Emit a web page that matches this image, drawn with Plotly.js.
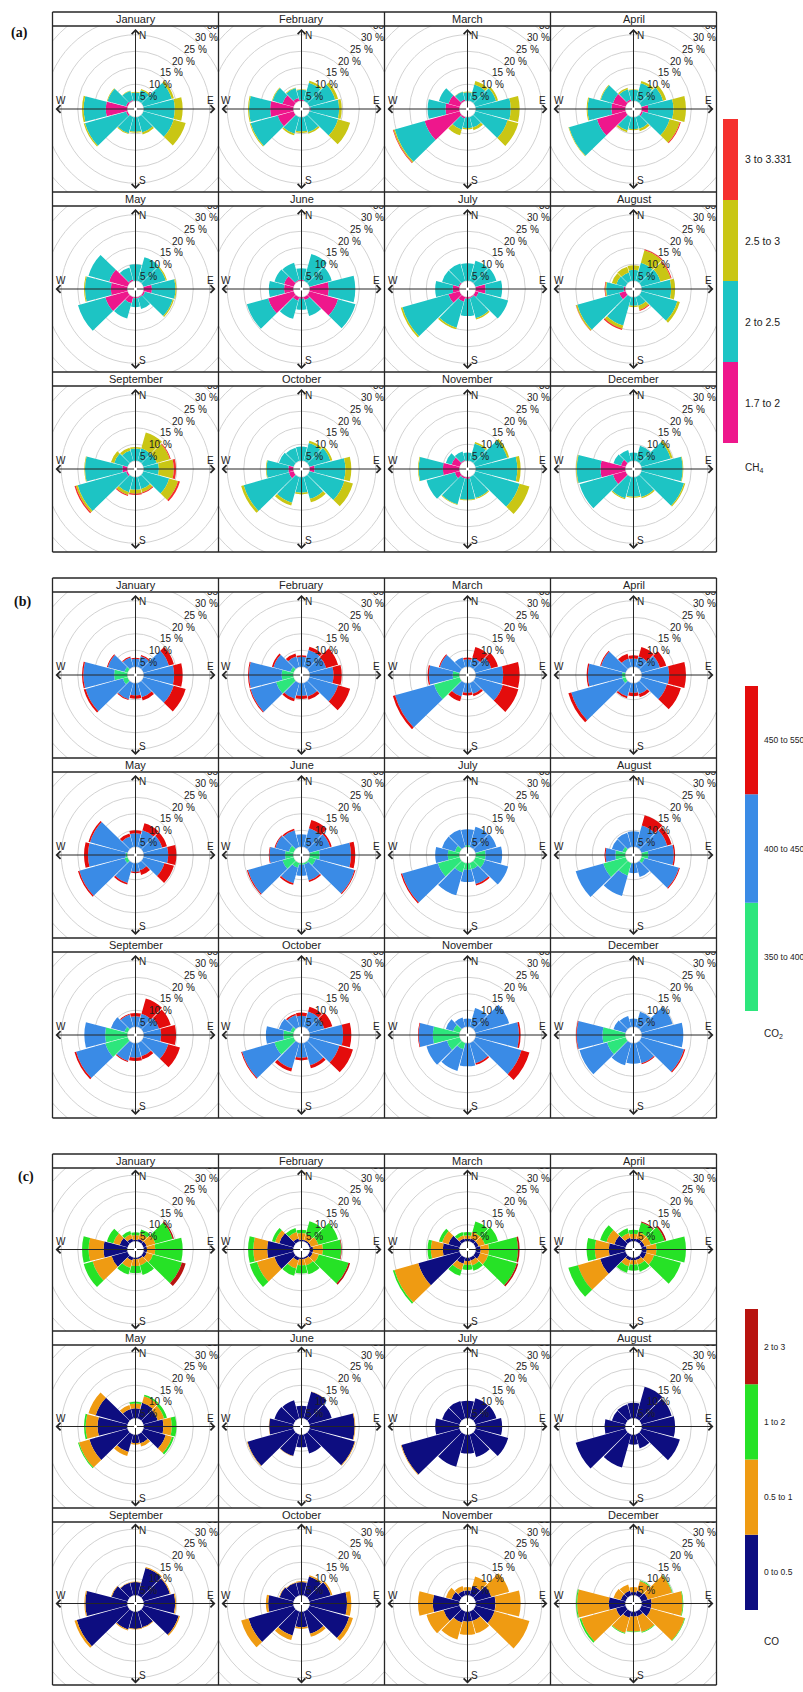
<!DOCTYPE html>
<html>
<head>
<meta charset="utf-8">
<script src="https://cdn.plot.ly/plotly-3.0.1.min.js"></script>
<style>
  html, body { margin: 0; padding: 0; background: #fff; }
  #chart { width: 803px; height: 1692px; }
</style>
</head>
<body>
<div id="chart"></div>
<script>
// Wind sectors (degrees, clockwise from north) and month panels
const directions = [0, 30, 60, 90, 120, 150, 180, 210, 240, 270, 300, 330];
const months = ['January', 'February', 'March', 'April', 'May', 'June',
                'July', 'August', 'September', 'October', 'November', 'December'];

// CH4 frequency (%) per sector, one row per month
const ch4_1p7to2 = [
  [0, 0, 0, 0, 0, 0, 0, 0, 0.5, 6.5, 0.5, 0.3],
  [0.3, 0, 0, 0.3, 0, 0, 0, 0, 5, 7, 3.5, 1],
  [0, 0, 0, 0, 0, 0, 0, 0.5, 11, 4.2, 3.5, 0.5],
  [0, 0, 0, 2, 0.5, 0, 0, 0, 9, 4.2, 4, 0.5],
  [0, 0, 0, 2.5, 0.5, 0.3, 0.3, 2, 7, 5, 5.8, 0.5],
  [0.3, 0, 0, 5.8, 9, 1, 0.5, 1.2, 8, 2.8, 3, 0.3],
  [0, 0, 0, 3, 1, 0.3, 0.5, 1.5, 3.5, 2, 0.3, 0],
  [0, 0, 0, 0, 0, 0, 0, 0, 2, 0.5, 0, 0],
  [0, 0, 0, 0, 0, 0, 0, 0, 0.5, 1.5, 0, 0],
  [0, 0, 0, 1.5, 0, 0, 0, 0, 1.5, 1.5, 0, 0],
  [0, 0, 0, 0, 0, 0, 0.5, 0.5, 1.5, 5, 2.5, 0.3],
  [0, 0, 0, 0, 0, 0, 0, 0, 4, 7.5, 1.5, 0]
];
const ch4_2to2p5 = [
  [2.5, 3.4, 8.9, 9.4, 9.5, 4.9, 4.4, 5.1, 12.9, 6.7, 5.8, 2.9],
  [3, 5.8, 8.1, 8.6, 9, 4.8, 4.3, 5.3, 8.5, 6.4, 3.1, 3.1],
  [2.6, 5.2, 6.5, 10.6, 10.1, 3.3, 3.3, 3.5, 9.4, 5.4, 3, 2.4],
  [3.3, 5.6, 6.8, 7.6, 8.4, 3.7, 3.6, 4.3, 8.8, 7.2, 3.8, 3.2],
  [5, 7.5, 7, 7.1, 8.7, 3.5, 2.7, 4.8, 8.6, 7.8, 6.5, 3.8],
  [3.5, 8.5, 7, 8, 5.5, 5, 3.3, 5.7, 6.7, 4.6, 3, 5.5],
  [5.3, 6.4, 6.6, 5, 9.3, 6.4, 5.2, 8.2, 14.5, 5.3, 5.2, 5.5],
  [3.3, 5.8, 6, 8.9, 11.3, 2.8, 2.6, 9, 13.2, 5.3, 2.9, 2.7],
  [3.7, 4, 4.2, 4.6, 8.1, 3.8, 3.8, 4.8, 15.2, 11.3, 4.2, 3.3],
  [4.3, 5.7, 6.6, 9.3, 11, 6.9, 4.7, 8.1, 14.2, 6.6, 4.6, 4.2],
  [2.5, 5.5, 10, 12.6, 13.9, 6.6, 6.3, 8.1, 8.9, 7.3, 1.8, 2.7],
  [2.5, 4.8, 9.2, 12.4, 13.4, 6.3, 5.9, 6.7, 10.5, 7.2, 2.3, 3.5]
];
const ch4_2p5to3 = [
  [0.2, 0.4, 0.7, 2.4, 3.8, 0.6, 0.3, 0.3, 0.4, 0.5, 0.2, 0.1],
  [0.2, 0.6, 0.9, 0.8, 3.8, 0.5, 0.5, 0.5, 0.3, 0.3, 0.2, 0.2],
  [0.2, 1.1, 0.6, 2.7, 3.4, 0.9, 0.4, 1.8, 0.4, 0, 0, 0.1],
  [0.2, 0.7, 1, 3.8, 3.2, 0.8, 0.3, 0.5, 0.2, 0.3, 0.2, 0.5],
  [0, 0, 0.4, 0.3, 0.4, 0, 0, 0, 0, 0.3, 0, 0],
  [0, 0, 0, 0, 0, 0, 0, 0, 0, 0, 0, 0],
  [0, 0, 0, 0, 0, 0.4, 0, 0.5, 0.5, 0, 0, 0],
  [1.4, 3.9, 3.2, 1.2, 0.8, 1.3, 0.4, 1, 0.4, 0.3, 1.4, 1.8],
  [0.5, 5, 4.1, 4.5, 2.8, 1.1, 1.2, 0.9, 0.6, 0.2, 1, 0.9],
  [0, 0.7, 0.6, 1.8, 2.7, 1.1, 0.5, 0.9, 0.8, 0.2, 0, 0],
  [0, 0.5, 0.6, 1, 3.1, 0.3, 0.2, 0.2, 0, 0.2, 0, 0],
  [0, 0, 0.6, 0.2, 0.4, 0.4, 0.3, 0.3, 0, 0.2, 0, 0]
];
const ch4_3to3p331 = [
  [0, 0, 0, 0, 0, 0, 0, 0, 0, 0, 0, 0],
  [0, 0, 0, 0, 0, 0, 0, 0, 0, 0, 0, 0],
  [0, 0, 0, 0, 0, 0, 0, 0, 0.2, 0, 0, 0],
  [0, 0, 0, 0, 0.3, 0, 0, 0, 0, 0, 0, 0],
  [0, 0, 0, 0, 0, 0, 0, 0, 0, 0, 0, 0],
  [0, 0, 0, 0, 0, 0, 0, 0, 0, 0, 0, 0],
  [0, 0, 0, 0, 0, 0, 0, 0, 0, 0, 0, 0],
  [0, 0.3, 0.3, 0, 0, 0.3, 0, 0.4, 0.1, 0.2, 0, 0],
  [0, 0, 0.3, 0.7, 0.6, 0.3, 0.4, 0.3, 0.4, 0, 0, 0],
  [0, 0, 0, 0, 0, 0, 0, 0, 0, 0, 0, 0],
  [0, 0, 0, 0, 0, 0, 0, 0, 0, 0, 0, 0],
  [0, 0, 0, 0, 0, 0, 0, 0, 0, 0, 0, 0]
];

// CO2 frequency (%) per sector
const co2_350to400 = [
  [0, 0, 0, 0, 0, 0, 0, 0, 1.5, 4, 1, 0],
  [0, 0, 0, 0, 0, 0, 0, 0, 5.5, 3.5, 1, 0],
  [0, 0, 0, 0, 0, 0, 0, 0, 8, 2, 0, 0],
  [0, 0, 0, 0, 0, 0, 0, 0, 1, 1, 0, 0],
  [0, 0, 0, 0, 0, 0, 0, 0, 1, 0.5, 0, 0],
  [0, 0, 0, 3, 2, 0.5, 0.5, 1.5, 3.5, 2.5, 1.5, 0],
  [0.5, 0, 0, 3, 3, 2, 2, 3, 6.8, 3.5, 1.5, 0],
  [0, 0, 0, 2, 1, 0, 0, 4, 7, 3, 1, 0],
  [0, 0, 0, 0, 0, 0, 0, 0, 7, 6.7, 1, 0],
  [0, 0, 0, 0, 0, 0, 0, 0, 6, 3, 1, 0],
  [0, 0, 0, 0, 0, 0, 0, 2, 4, 8, 2, 0],
  [0, 0, 0, 0, 0, 0, 0, 0, 5.8, 6.9, 0, 0]
];
const co2_400to450 = [
  [2.4, 3.4, 8, 9.2, 9.5, 4.5, 3.7, 5.1, 11.7, 9.3, 5.2, 3],
  [3, 5.4, 5.3, 7.2, 9, 4.3, 3.8, 5, 8, 9.9, 5.3, 3.3],
  [2.3, 3, 5, 8.3, 8.6, 3.4, 2.9, 4.3, 12.3, 7.2, 6.2, 3],
  [2.5, 3.3, 5.8, 8.3, 8, 3.5, 2.9, 4.3, 16.1, 10.3, 7.7, 2.7],
  [4.1, 5.3, 5.9, 7.4, 6.6, 2.3, 2.6, 6.3, 14.2, 11.4, 11.8, 3.3],
  [3.8, 5.9, 6.5, 9.5, 12.2, 5, 3.3, 4.9, 10.9, 4.7, 4.2, 5.3],
  [4.8, 6.4, 6.6, 5, 7.3, 4.6, 3.7, 7.2, 11.3, 3.8, 4, 5.5],
  [4.7, 6.8, 8.1, 7.7, 10.8, 4.4, 3, 6.4, 8.7, 3, 3.3, 4.5],
  [3.2, 4.2, 4.9, 5.3, 7.8, 4.2, 4.4, 5.7, 9.2, 6.3, 4.2, 3.9],
  [3.3, 4.9, 4.7, 10.1, 9.4, 7, 4.4, 8, 10.2, 5.3, 3.6, 3.7],
  [2.5, 6, 10.6, 13.1, 14.5, 6.4, 7, 6.8, 6.4, 4.3, 2.3, 3],
  [2.5, 4.8, 9.8, 12.6, 13.4, 6.4, 6.2, 7, 8.7, 7.8, 3.8, 3.5]
];
const co2_450to550 = [
  [0.3, 0.4, 1.6, 2.6, 3.8, 1, 1, 0.3, 0.6, 0.4, 0.3, 0.3],
  [0.5, 1, 3.7, 2.5, 3.8, 1, 1, 0.8, 0.3, 0.3, 0.5, 1],
  [0.5, 3.3, 2.1, 5, 4.9, 0.8, 0.8, 1.5, 0.7, 0.4, 0.3, 0],
  [1, 3, 2, 5.1, 4.4, 1, 1, 0.5, 0.9, 0.4, 0.3, 1.5],
  [0.9, 2.2, 1.5, 2.5, 3, 1.5, 0.4, 0.5, 0.4, 1.2, 0.5, 1],
  [0, 2.6, 0.5, 1.3, 0.3, 0.5, 0, 0.5, 0.3, 0.2, 0.3, 0.5],
  [0, 0, 0, 0, 0, 0.5, 0, 0, 0.4, 0, 0, 0],
  [0, 3.2, 1.4, 0.4, 0.3, 0, 0, 0, 0, 0.3, 0, 0],
  [1, 4.8, 3.7, 4.5, 3.7, 1, 1, 0.3, 0.5, 0, 0, 0.3],
  [1, 1.5, 2.5, 2.5, 4.3, 1, 0.8, 1, 0.3, 0, 0, 0.5],
  [0, 0, 0, 0.5, 2.5, 0.5, 0, 0, 0, 0.2, 0, 0],
  [0, 0, 0, 0, 0.4, 0.3, 0, 0, 0, 0.2, 0, 0]
];

// CO frequency (%) per sector
const co_0to0p5 = [
  [0.5, 0.8, 1, 1, 1, 0.5, 0.5, 1, 5, 7.2, 2.5, 1],
  [0.5, 0.5, 0.5, 1, 1, 0.5, 0.5, 1, 6, 7.9, 4.5, 1],
  [0.8, 1, 1, 1.5, 1.5, 1, 1, 2, 13, 5, 3.5, 1],
  [0.8, 1, 1, 1.5, 1.5, 0.8, 0.8, 1, 8, 5, 3.5, 1.2],
  [3, 5, 4.5, 6, 7, 2.8, 2.5, 5.5, 12, 9, 10, 3],
  [3.8, 8.4, 7, 13.6, 14.3, 6, 3.8, 6.8, 14.5, 7.3, 6, 5.8],
  [5.3, 6.4, 6.6, 8, 10.3, 7.1, 5.7, 10.2, 18.3, 7.3, 5.5, 5.5],
  [4.7, 10, 9.5, 10.1, 12.1, 4.4, 3, 10.4, 15.7, 6.3, 4.3, 4.5],
  [4, 8.7, 8.3, 9.5, 11.1, 5, 5.2, 5.7, 16, 12.7, 5, 4],
  [4, 6, 6.7, 11.3, 12.5, 7, 4.7, 7.6, 14.2, 7.6, 4.4, 4],
  [1.5, 3, 5, 6, 6, 3, 3, 3.5, 5, 8, 2.5, 1.5],
  [1, 1.5, 2, 3, 3, 1.5, 1.5, 2, 3, 5, 1.5, 1.5]
];
const co_0p5to1 = [
  [1.4, 1.8, 2.8, 2.5, 2, 2, 2, 2.3, 6, 4.5, 2, 1.3],
  [2, 1.8, 2.3, 3, 2, 2, 1.8, 2.5, 5.5, 4.2, 1.3, 2],
  [1, 2, 2, 2.5, 2.5, 1.5, 1.2, 2, 7.5, 3.6, 2, 1],
  [1.5, 2, 2, 3, 2.5, 1.5, 1.3, 1.8, 7, 4.2, 2.5, 1.5],
  [1.5, 2, 2, 2.5, 2, 1, 0.5, 1.3, 3.3, 3.6, 2.3, 1.3],
  [0, 0.1, 0, 0.2, 0.2, 0, 0, 0.1, 0.2, 0.1, 0, 0],
  [0, 0, 0, 0, 0, 0, 0, 0, 0.2, 0, 0, 0],
  [0, 0, 0, 0, 0, 0, 0, 0, 0, 0, 0, 0],
  [0.2, 0.3, 0.3, 0.3, 0.4, 0.2, 0.2, 0.3, 0.7, 0.3, 0.2, 0.2],
  [0.3, 0.4, 0.5, 1.3, 1.2, 1, 0.5, 1.4, 2.3, 0.7, 0.2, 0.2],
  [1, 3, 5.6, 7.6, 11, 3.9, 4, 5.3, 5.4, 4.5, 1.8, 1.5],
  [1.5, 3.1, 7.6, 9.4, 10.6, 5, 4.5, 4.8, 11, 9.6, 2.3, 2]
];
const co_1to2 = [
  [0.8, 1.2, 5.4, 8.3, 9.1, 3, 2.2, 2.1, 2.8, 2, 2, 1],
  [1, 4.1, 6.2, 5.5, 9.3, 2.8, 2.5, 2.3, 2.3, 1.6, 1, 1.3],
  [1, 3.3, 4.1, 8.8, 9, 1.7, 1.5, 1.8, 0.5, 1, 1, 1],
  [1.2, 3, 4.3, 8.9, 8.4, 2.2, 1.8, 2, 3, 2.5, 2, 1.5],
  [0.5, 0.5, 0.9, 1.4, 0.6, 0, 0, 0, 0.3, 0.5, 0, 0],
  [0, 0, 0, 0, 0, 0, 0, 0, 0, 0, 0, 0],
  [0, 0, 0, 0, 0, 0, 0, 0, 0, 0, 0, 0],
  [0, 0, 0, 0, 0, 0, 0, 0, 0, 0, 0, 0],
  [0, 0, 0, 0, 0, 0, 0, 0, 0, 0, 0, 0],
  [0, 0, 0, 0, 0, 0, 0, 0, 0, 0, 0, 0],
  [0, 0, 0, 0, 0, 0, 0, 0, 0, 0, 0, 0],
  [0, 0.2, 0.2, 0.2, 0.2, 0.2, 0.2, 0.2, 0.5, 0.3, 0, 0]
];
const co_2to3 = [
  [0, 0, 0.4, 0, 1.2, 0, 0, 0, 0, 0, 0, 0],
  [0, 0, 0, 0.2, 0.5, 0, 0, 0, 0, 0, 0, 0],
  [0, 0, 0, 0.5, 0.5, 0, 0, 0, 0, 0, 0, 0],
  [0, 0.3, 0.5, 0, 0, 0, 0, 0, 0, 0, 0, 0],
  [0, 0, 0, 0, 0, 0, 0, 0, 0, 0, 0, 0],
  [0, 0, 0, 0, 0, 0, 0, 0, 0, 0, 0, 0],
  [0, 0, 0, 0, 0, 0, 0, 0, 0, 0, 0, 0],
  [0, 0, 0, 0, 0, 0, 0, 0, 0, 0, 0, 0],
  [0, 0, 0, 0, 0, 0, 0, 0, 0, 0, 0, 0],
  [0, 0, 0, 0, 0, 0, 0, 0, 0, 0, 0, 0],
  [0, 0, 0, 0, 0, 0, 0, 0, 0, 0, 0, 0],
  [0, 0, 0, 0, 0, 0, 0, 0, 0, 0, 0, 0]
];

// Concentration class labels (low to high)
const ch4Classes = ['1.7 to 2', '2 to 2.5', '2.5 to 3', '3 to 3.331'];
const co2Classes = ['350 to 400', '400 to 450', '450 to 550'];
const coClasses = ['0 to 0.5', '0.5 to 1', '1 to 2', '2 to 3'];

// Percent ring labels
const ringSteps = [5, 10, 15, 20, 25, 30, 35];

// ---------------------------------------------------------------- layout
const W = 803, H = 1692;
const FONT = 'Liberation Sans, Arial, sans-serif';
const colLeft = [52.5, 218.5, 384.5, 550.5];
const CELL_W = 166, STRIP = 14;
const K = 3.3;                 // pixels per percent
const OFF = 2.5;               // inner hole in percent units
const HALF = 83;               // half cell width, px
const R_MAX = (HALF - OFF * K) / K;
const HOLE = OFF * K / HALF;
const TIP = 80;                // arrow tip distance from centre, px
const LINE = '#262626';

const panels = [
  { tag: '(a)', tagXY: [19.5, 33], top: 12, rowH: 180,
    series: [ch4_1p7to2, ch4_2to2p5, ch4_2p5to3, ch4_3to3p331], classes: ch4Classes,
    colors: ['#ee178c', '#1dc4c4', '#c9c614', '#f5302d'],
    legend: { x0: 723, x1: 738, top: 119, bottom: 443, labelX: 743, title: 'CH<sub>4</sub>', titleY: 468, size: 10.5 } },
  { tag: '(b)', tagXY: [22, 602], top: 578, rowH: 180,
    series: [co2_350to400, co2_400to450, co2_450to550], classes: co2Classes,
    colors: ['#2de67c', '#3a8be6', '#e40c0c'],
    legend: { x0: 745, x1: 758, top: 686, bottom: 1011, labelX: 762, title: 'CO<sub>2</sub>', titleY: 1034, size: 8.5 } },
  { tag: '(c)', tagXY: [26, 1177], top: 1154, rowH: 177,
    series: [co_0to0p5, co_0p5to1, co_1to2, co_2to3], classes: coClasses,
    colors: ['#0d0d80', '#ef9b12', '#26e226', '#b8130f'],
    legend: { x0: 745, x1: 758, top: 1309, bottom: 1610, labelX: 762, title: 'CO', titleY: 1641, size: 8.5 } }
];

const px = x => x / W;
const py = y => 1 - y / H;

const data = [];
const layout = {
  width: W, height: H,
  margin: { l: 0, r: 0, t: 0, b: 0 },
  paper_bgcolor: '#ffffff', plot_bgcolor: 'rgba(0,0,0,0)',
  showlegend: false,
  font: { family: FONT, size: 10, color: '#222' },
  shapes: [], annotations: []
};

let n = 0;
panels.forEach(P => {
  for (let m = 0; m < 12; m++) {
    n++;
    const row = Math.floor(m / 4), col = m % 4;
    const x0 = colLeft[col], x1 = x0 + CELL_W;
    const rowTop = P.top + row * P.rowH;
    const y0 = rowTop + STRIP, y1 = rowTop + P.rowH;
    const cx = (x0 + x1) / 2, cy = (y0 + y1) / 2;
    const hh = (y1 - y0) / 2;
    const sfx = n === 1 ? '' : String(n);
    const xk = 'x' + sfx, yk = 'y' + sfx;

    // wind rose: stacked sectors
    layout['polar' + sfx] = {
      domain: { x: [px(cx - HALF), px(cx + HALF)], y: [py(cy + HALF), py(cy - HALF)] },
      hole: HOLE, bgcolor: 'rgba(0,0,0,0)', barmode: 'stack', bargap: 0,
      radialaxis: { range: [0, R_MAX], visible: false },
      angularaxis: { rotation: 90, direction: 'clockwise', showgrid: false, showline: false,
                     showticklabels: false, ticks: '' }
    };
    P.series.forEach((s, b) => {
      data.push({
        type: 'barpolar', subplot: 'polar' + sfx,
        r: s[m], theta: directions, width: directions.map(() => 28.6),
        marker: { color: P.colors[b], line: { width: 0 } },
        name: P.classes[b], hoverinfo: 'skip'
      });
    });

    // pixel-scaled frame for rings, cross and labels
    const hidden = { showgrid: false, zeroline: false, showticklabels: false, ticks: '',
                     showline: false, fixedrange: true };
    layout['xaxis' + sfx] = Object.assign({ domain: [px(x0), px(x1)], range: [-HALF, HALF], anchor: yk }, hidden);
    layout['yaxis' + sfx] = Object.assign({ domain: [py(y1), py(y0)], range: [-hh, hh], anchor: xk }, hidden);

    [0].concat(ringSteps).forEach(p => {
      const rr = (p + OFF) * K;
      layout.shapes.push({ type: 'circle', xref: xk, yref: yk, x0: -rr, x1: rr, y0: -rr, y1: rr,
                           line: { color: '#d2d2d2', width: 1 }, layer: 'below' });
    });

    // outermost ring label sits in the corner and is cut by the cell edge
    const last = ringSteps[ringSteps.length - 1];
    const rl = ((last + OFF) * K - 6.5) / Math.SQRT2;
    data.push({ type: 'scatter', xaxis: xk, yaxis: yk, x: [rl], y: [rl], mode: 'text',
                text: [last + ' %'], textfont: { size: 10, color: '#222', family: FONT },
                cliponaxis: true, hoverinfo: 'skip' });
    ringSteps.slice(0, -1).forEach(p => {
      const r = ((p + OFF) * K - 6.5) / Math.SQRT2;
      layout.annotations.push({ xref: xk, yref: yk, x: r, y: r, text: p + ' %', showarrow: false,
                                font: { size: 10, color: '#222' }, xanchor: 'center', yanchor: 'middle' });
    });

    // compass cross with arrow heads
    [[0, TIP], [0, -TIP], [TIP, 0], [-TIP, 0]].forEach(([tx, ty]) => {
      layout.annotations.push({ xref: xk, yref: yk, axref: xk, ayref: yk, x: tx, y: ty, ax: 0, ay: 0,
                                text: '', showarrow: true, arrowhead: 4, arrowsize: 1.5, arrowwidth: 1,
                                arrowcolor: LINE, standoff: 0, startstandoff: 0 });
    });
    const dirLab = [
      { t: 'N', x: 2, y: TIP, xa: 'left', ya: 'top' },
      { t: 'S', x: 2, y: -TIP + 2, xa: 'left', ya: 'bottom' },
      { t: 'E', x: TIP - 1, y: 2, xa: 'right', ya: 'bottom' },
      { t: 'W', x: -TIP - 1, y: 2, xa: 'left', ya: 'bottom' }
    ];
    dirLab.forEach(d => layout.annotations.push({ xref: xk, yref: yk, x: d.x, y: d.y, text: d.t,
      showarrow: false, xanchor: d.xa, yanchor: d.ya, font: { size: 10, color: '#222' }, borderpad: 0 }));

    // month strip title
    layout.annotations.push({ xref: 'paper', yref: 'paper', x: px(cx), y: py(rowTop + STRIP / 2),
                              text: months[m], showarrow: false, xanchor: 'center', yanchor: 'middle',
                              font: { size: 11, color: '#222' } });
  }

  // panel frame
  const bottom = P.top + 3 * P.rowH;
  const L = colLeft[0], R = colLeft[0] + 4 * CELL_W;
  const ln = (xa, ya, xb, yb) => layout.shapes.push({ type: 'line', xref: 'paper', yref: 'paper',
    x0: px(xa), y0: py(ya), x1: px(xb), y1: py(yb), line: { color: LINE, width: 1.3 }, layer: 'above' });
  ln(L, P.top, R, P.top); ln(L, bottom, R, bottom); ln(L, P.top, L, bottom); ln(R, P.top, R, bottom);
  for (let c = 1; c < 4; c++) ln(colLeft[c], P.top, colLeft[c], bottom);
  for (let r = 0; r < 3; r++) {
    if (r > 0) ln(L, P.top + r * P.rowH, R, P.top + r * P.rowH);
    ln(L, P.top + r * P.rowH + STRIP, R, P.top + r * P.rowH + STRIP);
  }

  // panel tag
  layout.annotations.push({ xref: 'paper', yref: 'paper', x: px(P.tagXY[0]), y: py(P.tagXY[1]),
    text: '<b>' + P.tag + '</b>', showarrow: false, xanchor: 'center', yanchor: 'middle',
    font: { family: 'Liberation Serif, Times New Roman, serif', size: 14, color: '#111' } });

  // colour key
  const G = P.legend, nb = P.classes.length, seg = (G.bottom - G.top) / nb;
  P.classes.forEach((lab, b) => {
    const yb = G.bottom - b * seg, yt = yb - seg;
    layout.shapes.push({ type: 'rect', xref: 'paper', yref: 'paper', x0: px(G.x0), x1: px(G.x1),
      y0: py(yb), y1: py(yt), fillcolor: P.colors[b], line: { width: 0 } });
    layout.annotations.push({ xref: 'paper', yref: 'paper', x: px(G.labelX), y: py((yb + yt) / 2),
      text: lab, showarrow: false, xanchor: 'left', yanchor: 'middle', font: { size: G.size, color: '#222' } });
  });
  layout.annotations.push({ xref: 'paper', yref: 'paper', x: px(G.labelX), y: py(G.titleY),
    text: G.title, showarrow: false, xanchor: 'left', yanchor: 'middle', font: { size: 10, color: '#222' } });
});

Plotly.newPlot('chart', data, layout, { staticPlot: true, displayModeBar: false });
</script>
</body>
</html>
